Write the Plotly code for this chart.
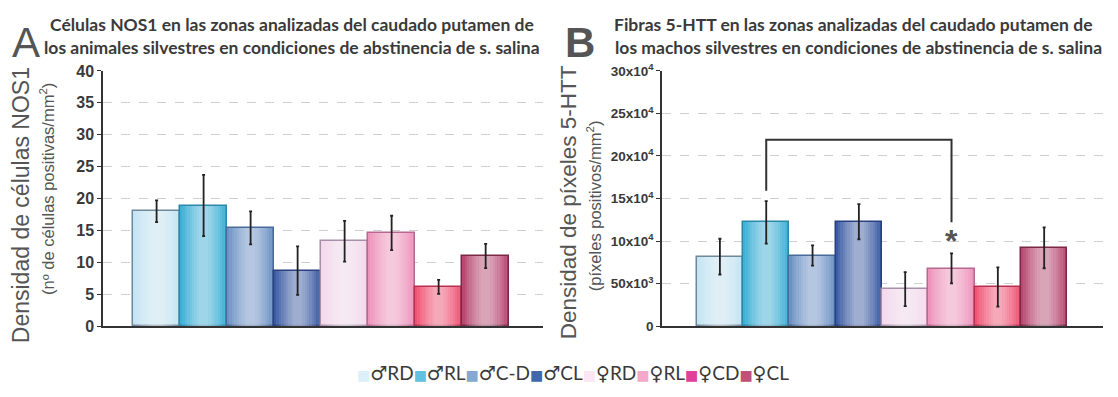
import plotly.graph_objects as go

# ---------------- data ----------------
categories = ["♂RD", "♂RL", "♂C-D", "♂CL", "♀RD", "♀RL", "♀CD", "♀CL"]
nos1_mean = [18.0, 18.9, 15.4, 8.7, 13.3, 14.6, 6.15, 11.0]
nos1_sem = [1.7, 4.8, 2.6, 3.8, 3.2, 2.7, 1.1, 1.9]
htt_mean = [81700, 122000, 83000, 122800, 43500, 67800, 46000, 92000]
htt_sem = [21000, 25000, 12000, 20700, 20000, 17600, 23000, 24000]

htt_tickvals = [0, 50000, 100000, 150000, 200000, 250000, 300000]
htt_ticktext = ["0", "50x10<sup>3</sup>", "10x10<sup>4</sup>", "15x10<sup>4</sup>",
                "20x10<sup>4</sup>", "25x10<sup>4</sup>", "30x10<sup>4</sup>"]
nos1_tickvals = [0, 5, 10, 15, 20, 25, 30, 35, 40]

# significance bracket (panel B)
sig_from, sig_to = 1, 5
bracket_top = 219000
bracket_left_bottom = 159000
bracket_right_bottom = 122000
star_y = 100000

bar_colors = ["#c4e4f4", "#3cb0d6", "#6c92c4", "#3a5ca4",
              "#f4d8ec", "#ee94bc", "#f05272", "#b84870"]
legend_colors = ["#dcf0f9", "#62c0e0", "#88a8d2", "#4066ac",
                 "#fae6f4", "#f4a8ca", "#e0409a", "#c05078"]
bar_lines = ["#70889a", "#2a88aa", "#4a6a9a", "#2a4080",
             "#a890a8", "#b86890", "#b83050", "#7a2846"]
shine_widths = [0.9, 0.8, 0.7, 0.6, 0.5, 0.4, 0.3, 0.2]

W, H = 1118, 397
AX = "#333333"
TXT = "#3a3a3a"
x_idx = list(range(len(categories)))

fig = go.Figure()

panels = [(nos1_mean, nos1_sem, "x", "y"), (htt_mean, htt_sem, "x2", "y2")]
for means, sems, xa, ya in panels:
    fig.add_trace(go.Bar(
        x=x_idx, y=means, width=1,
        marker=dict(color=bar_colors, line=dict(color=bar_lines, width=1.5)),
        xaxis=xa, yaxis=ya, showlegend=False, hoverinfo="y"))
    for w in shine_widths:
        fig.add_trace(go.Bar(
            x=x_idx, y=means, width=w,
            marker=dict(color="rgba(255,255,255,0.085)", line=dict(width=0)),
            xaxis=xa, yaxis=ya, showlegend=False, hoverinfo="skip"))
    fig.add_trace(go.Scatter(
        x=x_idx, y=means, mode="markers", marker=dict(size=1, opacity=0),
        error_y=dict(type="data", array=sems, color="#222222", thickness=1.8, width=1.5),
        xaxis=xa, yaxis=ya, showlegend=False, hoverinfo="skip"))

# bracket
fig.add_trace(go.Scatter(
    x=[sig_from, sig_from, sig_to, sig_to],
    y=[bracket_left_bottom, bracket_top, bracket_top, bracket_right_bottom],
    mode="lines", line=dict(color="#333333", width=2),
    xaxis="x2", yaxis="y2", showlegend=False, hoverinfo="skip"))

def px_x(p):
    return p / W

def px_y(p):
    return 1 - p / H

ydom = [px_y(332), px_y(64)]

fig.update_layout(
    width=W, height=H,
    margin=dict(l=0, r=0, t=0, b=0),
    paper_bgcolor="white", plot_bgcolor="white",
    barmode="overlay", bargap=0,
    xaxis=dict(domain=[px_x(103), px_x(543)], range=[-1.14, 8.22],
               showticklabels=False, showgrid=False, zeroline=False,
               showline=True, linecolor=AX, linewidth=1.5, ticks=""),
    yaxis=dict(domain=ydom, range=[0, 40], tickvals=nos1_tickvals,
               showline=True, linecolor=AX, linewidth=1.5,
               ticks="outside", ticklen=4, tickcolor=AX,
               gridcolor="#cfcfcf", griddash="dash", gridwidth=1, zeroline=False,
               tickfont=dict(family="Liberation Sans, Arial", size=16, color=TXT, weight="bold")),
    xaxis2=dict(domain=[px_x(662), px_x(1103)], range=[-1.25, 8.27],
                showticklabels=False, showgrid=False, zeroline=False,
                showline=True, linecolor=AX, linewidth=1.5, ticks="", anchor="y2"),
    yaxis2=dict(domain=ydom, range=[0, 300000], tickvals=htt_tickvals, ticktext=htt_ticktext,
                showline=True, linecolor=AX, linewidth=1.5, anchor="x2",
                ticks="outside", ticklen=4, tickcolor=AX,
                gridcolor="#cfcfcf", griddash="dash", gridwidth=1, zeroline=False,
                tickfont=dict(family="Liberation Sans, Arial", size=13.5, color=TXT, weight="bold")),
)

ann = []
def add_text(text, x, y, size, family="Lato", color=TXT, angle=0, bold=False, xanchor="center"):
    t = f"<b>{text}</b>" if bold else text
    ann.append(dict(text=t, x=px_x(x), y=px_y(y), xref="paper", yref="paper",
                    showarrow=False, xanchor=xanchor, yanchor="middle", textangle=angle,
                    font=dict(family=family, size=size, color=color)))

# panel letters
add_text("A", 26, 34, 42, family="Liberation Sans, Arial", color="#555555")
add_text("B", 580, 34, 42, family="Liberation Sans, Arial", color="#555555", bold=True)

# titles
add_text("Células NOS1 en las zonas analizadas del caudado putamen de", 292, 15, 17.5, bold=True)
add_text("los animales silvestres en condiciones de abstinencia de s. salina", 292, 39, 17.5, bold=True)
add_text("Fibras 5-HTT en las zonas analizadas del caudado putamen de", 853, 15, 17.5, bold=True)
add_text("los machos silvestres en condiciones de abstinencia de s. salina", 858, 39, 17.5, bold=True)

# y-axis titles
add_text("Densidad de células NOS1", 21, 205, 23, family="Liberation Sans, Arial",
         color="#555555", angle=-90)
add_text("(nº de células positivas/mm<sup>2</sup>)", 47, 188, 16.5, family="Liberation Sans, Arial",
         color="#555555", angle=-90)
add_text("Densidad de píxeles 5-HTT", 568, 202, 22.5, family="Liberation Sans, Arial",
         color="#555555", angle=-90)
add_text("(píxeles positivos/mm<sup>2</sup>)", 594, 206, 16.5, family="Liberation Sans, Arial",
         color="#555555", angle=-90)

# legend
legend_html = "".join(
    f"<span style='color:{c};font-size:14px'>■</span>{lab}" for c, lab in zip(legend_colors, categories))
add_text(legend_html, 573, 381, 19, family="Lato, DejaVu Sans", color=TXT)

fig.update_layout(annotations=ann)

# asterisk on data coordinates
fig.add_annotation(text="<b>*</b>", x=sig_to, y=star_y, xref="x2", yref="y2", showarrow=False,
                   font=dict(family="Liberation Sans, Arial", size=32, color="#555555"),
                   yanchor="middle")

fig.write_html("out.html")
